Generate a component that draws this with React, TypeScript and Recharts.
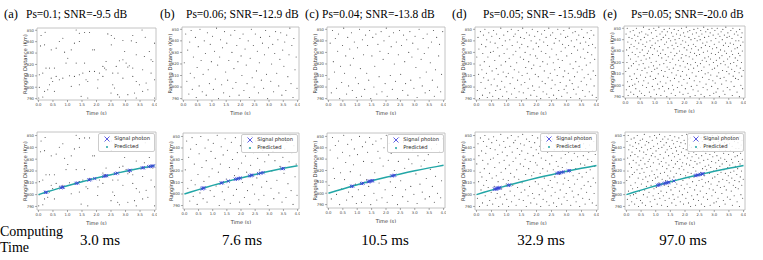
import { ComposedChart, Legend, ReferenceArea, Scatter, XAxis, YAxis } from 'recharts'

const timeTicks = [0, 0.5, 1, 1.5, 2, 2.5, 3, 3.5, 4]
const rangeTicks = [790, 800, 810, 820, 830, 840, 850]
const panelLetters = ['(a)', '(b)', '(c)', '(d)', '(e)']
const panelTitles = [
  'Ps=0.1; SNR=-9.5 dB',
  'Ps=0.06; SNR=-12.9 dB',
  'Ps=0.04; SNR=-13.8 dB',
  'Ps=0.05; SNR= -15.9dB',
  'Ps=0.05; SNR=-20.0 dB',
]
const computeTimes = ['3.0 ms', '7.6 ms', '10.5 ms', '32.9 ms', '97.0 ms']

// noise photons: [time (s), ranging distance (km)]
const noiseA = [
  [0.23, 848.3], [0.09, 845.4], [1.3, 850.3], [1.59, 848], [1.76, 848], [1.41, 847.4], [2.39, 846.8], [2.51, 845.4],
  [3.25, 845.4], [3.57, 850.3], [3.68, 843.9], [0.84, 843], [0.72, 840.1], [1.24, 838.7], [1.41, 840.1], [2.62, 843],
  [2.91, 841], [3.2, 840.7], [3.37, 839.3], [4.0, 838.7], [0.21, 837.2], [0.07, 836.3], [0.44, 832.8], [0.61, 834.3],
  [0.9, 830.8], [1.01, 825.5], [1.13, 832.8], [1.87, 832.8], [1.93, 832.8], [2.51, 837.2], [2.97, 831.4], [2.91, 824.1],
  [2.79, 823.2], [3.37, 828.5], [3.65, 827], [3.88, 824.1], [3.82, 831.4], [1.3, 821.2], [0.95, 821.2], [0.38, 816.8],
  [0.26, 816.8], [0.15, 812.4], [0.55, 816.8], [1.59, 821.2], [2.33, 822.6], [2.68, 818.3], [3.08, 817.7], [3.13, 818.8],
  [2.22, 818.3], [2.28, 816.8], [2.33, 815.3], [1.93, 813.9], [1.76, 813.9], [1.7, 805.1], [1.64, 806.6], [1.53, 812.4],
  [1.41, 811], [1.07, 810.1], [0.84, 808], [0.72, 806.6], [0.61, 809.5], [0.44, 808], [0.03, 811], [0.49, 805.1],
  [0.38, 802.2], [0.32, 797.8], [0.21, 796.4], [0.55, 796.4], [1.13, 800.8], [1.41, 802.2], [2.05, 806.6], [2.22, 809.5],
  [2.56, 812.4], [2.74, 812.4], [2.56, 802.2], [2.62, 799.3], [2.91, 808], [3.25, 809.5], [3.37, 805.1], [3.48, 802.2],
  [3.71, 803.7], [3.88, 812.4], [4.0, 806.6], [3.77, 797.8], [3.59, 796.4], [3.31, 794.9], [3.08, 793.5], [2.73, 793.5],
  [2.79, 791.4], [3.37, 790.5], [2.5, 794.9], [2.04, 799.3], [1.47, 792], [1.7, 790.5], [0.15, 791.4], [0.01, 790.5],
  [4.0, 790.5], [0.03, 799.9], [1.24, 809.5], [2.1, 812.4], [3.94, 822.6], [3.59, 815.3], [3.25, 816.8], [3.02, 821.2],
]
const noiseB = [
  [0.03, 821], [0.08, 846], [0.12, 805], [0.15, 832], [0.19, 794], [0.22, 839], [0.24, 812],
  [0.27, 849], [0.31, 798], [0.35, 826], [0.38, 808], [0.42, 843], [0.45, 791], [0.48, 817],
  [0.52, 835], [0.55, 801], [0.58, 850], [0.62, 823], [0.66, 796], [0.69, 811], [0.73, 840],
  [0.77, 829], [0.8, 793], [0.84, 847], [0.87, 815], [0.91, 803], [0.94, 837], [0.98, 822],
  [1.02, 844], [1.05, 798], [1.09, 831], [1.12, 807], [1.16, 851], [1.2, 819], [1.23, 790],
  [1.27, 826], [1.3, 841], [1.34, 802], [1.37, 834], [1.41, 795], [1.44, 848], [1.48, 813],
  [1.52, 838], [1.55, 806], [1.59, 823], [1.62, 792], [1.66, 845], [1.7, 830], [1.73, 799],
  [1.77, 816], [1.8, 849], [1.84, 804], [1.87, 836], [1.91, 822], [1.95, 793], [1.98, 842],
  [2.02, 827], [2.05, 810], [2.09, 846], [2.12, 797], [2.16, 833], [2.2, 819], [2.23, 803],
  [2.27, 840], [2.31, 791], [2.34, 825], [2.38, 850], [2.41, 808], [2.45, 836], [2.48, 800],
  [2.52, 846], [2.56, 814], [2.59, 831], [2.63, 795], [2.66, 821], [2.7, 843], [2.73, 806],
  [2.77, 838], [2.81, 799], [2.84, 828], [2.88, 849], [2.91, 811], [2.95, 790], [2.98, 834],
  [3.02, 844], [3.06, 805], [3.09, 820], [3.13, 837], [3.16, 796], [3.2, 829], [3.23, 848],
  [3.27, 812], [3.31, 841], [3.34, 801], [3.38, 824], [3.41, 847], [3.45, 793], [3.48, 832],
  [3.52, 818], [3.55, 839], [3.59, 797], [3.62, 845], [3.66, 809], [3.7, 828], [3.73, 851],
  [3.77, 803], [3.8, 836], [3.84, 791], [3.87, 842], [3.91, 815], [3.95, 826], [3.98, 799],
]
const noiseC = [
  [0.02, 807], [0.06, 838], [0.1, 795], [0.14, 849], [0.17, 822], [0.21, 813], [0.24, 842],
  [0.28, 799], [0.32, 831], [0.35, 846], [0.39, 790], [0.42, 818], [0.46, 804], [0.49, 836],
  [0.53, 851], [0.56, 812], [0.6, 827], [0.63, 794], [0.67, 843], [0.7, 801], [0.74, 833],
  [0.76, 819], [0.8, 847], [0.83, 797], [0.87, 825], [0.9, 839], [0.94, 808], [0.97, 791],
  [1.01, 834], [1.04, 803], [1.08, 850], [1.11, 816], [1.15, 792], [1.18, 841], [1.22, 828],
  [1.26, 798], [1.29, 845], [1.33, 812], [1.36, 836], [1.4, 806], [1.43, 849], [1.47, 790],
  [1.51, 827], [1.54, 843], [1.58, 800], [1.61, 818], [1.65, 846], [1.68, 794], [1.72, 837],
  [1.76, 809], [1.79, 831], [1.83, 848], [1.86, 796], [1.9, 824], [1.93, 840], [1.97, 803],
  [2.01, 851], [2.04, 792], [2.08, 829], [2.11, 844], [2.15, 810], [2.18, 835], [2.22, 798],
  [2.26, 847], [2.29, 820], [2.33, 805], [2.36, 839], [2.4, 790], [2.43, 828], [2.47, 849],
  [2.51, 811], [2.54, 836], [2.58, 797], [2.61, 845], [2.65, 822], [2.68, 803], [2.72, 841],
  [2.76, 793], [2.79, 830], [2.83, 848], [2.86, 806], [2.9, 826], [2.93, 838], [2.97, 799],
  [3.01, 844], [3.04, 817], [3.08, 791], [3.11, 833], [3.15, 850], [3.18, 808], [3.22, 824],
  [3.26, 801], [3.29, 842], [3.33, 829], [3.36, 795], [3.4, 813], [3.43, 846], [3.47, 834],
  [3.51, 797], [3.54, 821], [3.58, 839], [3.61, 806], [3.65, 849], [3.68, 792], [3.72, 815],
  [3.76, 843], [3.79, 800], [3.83, 827], [3.86, 837], [3.9, 796], [3.93, 811], [3.97, 848],
]
const noiseD = [
  [0.01, 826], [0.03, 797], [0.05, 843], [0.07, 811], [0.08, 833], [0.1, 790], [0.12, 819], [0.13, 848], [0.15, 804], [0.17, 837], [0.18, 815], [0.2, 793], [0.21, 829], [0.23, 845], [0.24, 808],
  [0.26, 822], [0.28, 850], [0.29, 799], [0.31, 835], [0.33, 812], [0.34, 841], [0.36, 791], [0.38, 826], [0.39, 806], [0.41, 847], [0.43, 818], [0.44, 795], [0.46, 839], [0.47, 830], [0.49, 802],
  [0.51, 844], [0.52, 814], [0.54, 792], [0.56, 831], [0.57, 849], [0.59, 807], [0.61, 823], [0.62, 838], [0.64, 797], [0.66, 816], [0.67, 846], [0.69, 801], [0.71, 834], [0.72, 811], [0.74, 790],
  [0.76, 827], [0.77, 842], [0.79, 798], [0.81, 851], [0.82, 819], [0.84, 805], [0.86, 836], [0.87, 792], [0.89, 813], [0.91, 845], [0.92, 829], [0.94, 800], [0.96, 840], [0.97, 822], [0.99, 809],
  [1.01, 796], [1.02, 833], [1.04, 848], [1.06, 812], [1.07, 790], [1.09, 825], [1.11, 841], [1.12, 803], [1.14, 818], [1.16, 850], [1.17, 794], [1.19, 836], [1.21, 808], [1.22, 828], [1.24, 844],
  [1.26, 815], [1.27, 799], [1.29, 846], [1.31, 831], [1.32, 791], [1.34, 821], [1.36, 839], [1.37, 806], [1.39, 849], [1.41, 813], [1.42, 796], [1.44, 834], [1.46, 826], [1.47, 843], [1.49, 802],
  [1.51, 837], [1.52, 810], [1.54, 851], [1.56, 795], [1.57, 824], [1.59, 842], [1.61, 804], [1.62, 830], [1.64, 817], [1.66, 790], [1.67, 847], [1.69, 812], [1.71, 835], [1.72, 799], [1.74, 822],
  [1.76, 845], [1.77, 807], [1.79, 828], [1.81, 793], [1.82, 840], [1.84, 816], [1.86, 850], [1.87, 801], [1.89, 833], [1.91, 819], [1.92, 797], [1.94, 844], [1.96, 811], [1.97, 827], [1.99, 838],
  [2.01, 792], [2.02, 825], [2.04, 848], [2.06, 809], [2.07, 835], [2.09, 800], [2.11, 841], [2.12, 818], [2.14, 790], [2.16, 831], [2.17, 846], [2.19, 805], [2.21, 822], [2.22, 796], [2.24, 839],
  [2.26, 814], [2.27, 849], [2.29, 803], [2.31, 829], [2.32, 843], [2.34, 794], [2.36, 820], [2.37, 836], [2.39, 808], [2.41, 851], [2.42, 791], [2.44, 826], [2.46, 812], [2.47, 845], [2.49, 799],
  [2.51, 833], [2.52, 806], [2.54, 847], [2.56, 821], [2.57, 793], [2.59, 838], [2.61, 815], [2.62, 802], [2.64, 842], [2.66, 828], [2.67, 790], [2.69, 810], [2.71, 850], [2.72, 824], [2.74, 797],
  [2.76, 840], [2.77, 817], [2.79, 804], [2.81, 846], [2.82, 831], [2.84, 792], [2.86, 823], [2.87, 837], [2.89, 809], [2.91, 849], [2.92, 798], [2.94, 814], [2.96, 834], [2.97, 843], [2.99, 801],
  [3.01, 827], [3.02, 795], [3.04, 844], [3.06, 812], [3.07, 836], [3.09, 851], [3.11, 806], [3.12, 820], [3.14, 791], [3.16, 840], [3.17, 829], [3.19, 803], [3.21, 847], [3.22, 816], [3.24, 798],
  [3.26, 835], [3.27, 809], [3.29, 848], [3.31, 822], [3.32, 794], [3.34, 841], [3.36, 813], [3.37, 832], [3.39, 800], [3.41, 845], [3.42, 818], [3.44, 790], [3.46, 838], [3.47, 826], [3.49, 805],
  [3.51, 850], [3.52, 815], [3.54, 797], [3.56, 833], [3.57, 843], [3.59, 808], [3.61, 825], [3.62, 792], [3.64, 839], [3.66, 819], [3.67, 802], [3.69, 847], [3.71, 830], [3.72, 811], [3.74, 836],
  [3.76, 796], [3.77, 842], [3.79, 821], [3.81, 807], [3.82, 849], [3.84, 828], [3.86, 793], [3.87, 837], [3.89, 814], [3.91, 845], [3.92, 801], [3.94, 824], [3.96, 834], [3.97, 810], [3.99, 791],
]
const noiseE = [
  [0.01, 812], [0.02, 845], [0.03, 796], [0.04, 831], [0.05, 820], [0.06, 850], [0.07, 803], [0.08, 838], [0.09, 791], [0.1, 826], [0.11, 815], [0.12, 842], [0.13, 799], [0.14, 833], [0.15, 808], [0.16, 847], [0.17, 823], [0.18, 794], [0.19, 836], [0.2, 817], [0.21, 805], [0.22, 841], [0.23, 829], [0.24, 800],
  [0.26, 848], [0.27, 819], [0.28, 792], [0.29, 834], [0.3, 810], [0.31, 844], [0.32, 801], [0.33, 827], [0.34, 839], [0.35, 797], [0.36, 821], [0.37, 850], [0.38, 806], [0.39, 832], [0.4, 814], [0.41, 790], [0.42, 843], [0.43, 825], [0.44, 803], [0.45, 837], [0.46, 818], [0.47, 846], [0.48, 795], [0.49, 829],
  [0.51, 809], [0.52, 840], [0.53, 822], [0.54, 793], [0.55, 847], [0.56, 813], [0.57, 831], [0.58, 800], [0.59, 836], [0.6, 819], [0.61, 851], [0.62, 804], [0.63, 826], [0.64, 842], [0.65, 791], [0.66, 815], [0.67, 834], [0.68, 807], [0.69, 845], [0.7, 823], [0.71, 798], [0.72, 838], [0.73, 811], [0.74, 828],
  [0.76, 844], [0.77, 802], [0.78, 830], [0.79, 816], [0.8, 849], [0.81, 794], [0.82, 824], [0.83, 839], [0.84, 808], [0.85, 833], [0.86, 790], [0.87, 820], [0.88, 846], [0.89, 812], [0.9, 835], [0.91, 799], [0.92, 827], [0.93, 841], [0.94, 805], [0.95, 817], [0.96, 850], [0.97, 796], [0.98, 832], [0.99, 814],
  [1.01, 837], [1.02, 806], [1.03, 848], [1.04, 821], [1.05, 792], [1.06, 843], [1.07, 815], [1.08, 830], [1.09, 801], [1.1, 839], [1.11, 810], [1.12, 826], [1.13, 851], [1.14, 797], [1.15, 834], [1.16, 818], [1.17, 845], [1.18, 803], [1.19, 828], [1.2, 791], [1.21, 840], [1.22, 813], [1.23, 824], [1.24, 847],
  [1.26, 799], [1.27, 831], [1.28, 842], [1.29, 808], [1.3, 819], [1.31, 849], [1.32, 795], [1.33, 836], [1.34, 812], [1.35, 827], [1.36, 844], [1.37, 802], [1.38, 822], [1.39, 838], [1.4, 790], [1.41, 816], [1.42, 847], [1.43, 807], [1.44, 833], [1.45, 825], [1.46, 797], [1.47, 841], [1.48, 814], [1.49, 850],
  [1.51, 820], [1.52, 804], [1.53, 839], [1.54, 829], [1.55, 793], [1.56, 846], [1.57, 811], [1.58, 835], [1.59, 800], [1.6, 823], [1.61, 843], [1.62, 815], [1.63, 796], [1.64, 832], [1.65, 849], [1.66, 806], [1.67, 826], [1.68, 840], [1.69, 791], [1.7, 818], [1.71, 837], [1.72, 809], [1.73, 845], [1.74, 828],
  [1.76, 798], [1.77, 834], [1.78, 813], [1.79, 848], [1.8, 822], [1.81, 803], [1.82, 841], [1.83, 830], [1.84, 794], [1.85, 817], [1.86, 844], [1.87, 808], [1.88, 836], [1.89, 824], [1.9, 850], [1.91, 800], [1.92, 827], [1.93, 812], [1.94, 839], [1.95, 792], [1.96, 821], [1.97, 846], [1.98, 805], [1.99, 833],
  [2.01, 843], [2.02, 816], [2.03, 797], [2.04, 838], [2.05, 826], [2.06, 851], [2.07, 809], [2.08, 831], [2.09, 802], [2.1, 819], [2.11, 847], [2.12, 793], [2.13, 835], [2.14, 814], [2.15, 842], [2.16, 825], [2.17, 806], [2.18, 848], [2.19, 790], [2.2, 829], [2.21, 818], [2.22, 840], [2.23, 799], [2.24, 832],
  [2.26, 811], [2.27, 845], [2.28, 823], [2.29, 796], [2.3, 836], [2.31, 815], [2.32, 849], [2.33, 804], [2.34, 828], [2.35, 841], [2.36, 791], [2.37, 820], [2.38, 834], [2.39, 808], [2.4, 846], [2.41, 826], [2.42, 800], [2.43, 839], [2.44, 817], [2.45, 850], [2.46, 795], [2.47, 831], [2.48, 812], [2.49, 843],
  [2.51, 827], [2.52, 803], [2.53, 840], [2.54, 819], [2.55, 848], [2.56, 792], [2.57, 833], [2.58, 813], [2.59, 845], [2.6, 822], [2.61, 807], [2.62, 837], [2.63, 798], [2.64, 829], [2.65, 851], [2.66, 816], [2.67, 790], [2.68, 842], [2.69, 824], [2.7, 810], [2.71, 835], [2.72, 847], [2.73, 801], [2.74, 821],
  [2.76, 838], [2.77, 796], [2.78, 830], [2.79, 849], [2.8, 811], [2.81, 825], [2.82, 843], [2.83, 805], [2.84, 818], [2.85, 834], [2.86, 791], [2.87, 846], [2.88, 823], [2.89, 809], [2.9, 839], [2.91, 828], [2.92, 799], [2.93, 850], [2.94, 814], [2.95, 832], [2.96, 804], [2.97, 844], [2.98, 820], [2.99, 793],
  [3.01, 836], [3.02, 815], [3.03, 848], [3.04, 802], [3.05, 827], [3.06, 841], [3.07, 794], [3.08, 822], [3.09, 833], [3.1, 808], [3.11, 850], [3.12, 817], [3.13, 797], [3.14, 845], [3.15, 829], [3.16, 811], [3.17, 838], [3.18, 790], [3.19, 824], [3.2, 843], [3.21, 806], [3.22, 831], [3.23, 819], [3.24, 847],
  [3.26, 801], [3.27, 826], [3.28, 840], [3.29, 813], [3.3, 849], [3.31, 795], [3.32, 835], [3.33, 821], [3.34, 807], [3.35, 844], [3.36, 830], [3.37, 792], [3.38, 818], [3.39, 837], [3.4, 851], [3.41, 804], [3.42, 828], [3.43, 812], [3.44, 842], [3.45, 798], [3.46, 823], [3.47, 846], [3.48, 816], [3.49, 834],
  [3.51, 810], [3.52, 843], [3.53, 825], [3.54, 796], [3.55, 837], [3.56, 819], [3.57, 848], [3.58, 803], [3.59, 830], [3.6, 814], [3.61, 841], [3.62, 791], [3.63, 827], [3.64, 850], [3.65, 808], [3.66, 836], [3.67, 820], [3.68, 799], [3.69, 845], [3.7, 812], [3.71, 832], [3.72, 824], [3.73, 806], [3.74, 839],
  [3.76, 847], [3.77, 817], [3.78, 794], [3.79, 833], [3.8, 822], [3.81, 844], [3.82, 805], [3.83, 828], [3.84, 839], [3.85, 811], [3.86, 790], [3.87, 849], [3.88, 826], [3.89, 815], [3.9, 835], [3.91, 800], [3.92, 842], [3.93, 820], [3.94, 808], [3.95, 846], [3.96, 830], [3.97, 797], [3.98, 838], [3.99, 813],
]

// detected signal photons
const signalA = [
  [0.24, 801.9], [0.28, 802.1], [0.78, 805.9], [0.82, 806.1], [0.85, 806.4], [1.3, 809.5], [1.35, 809.9], [1.74, 812.4],
  [1.78, 812.7], [1.94, 813.6], [2.25, 815.5], [2.3, 815.8], [2.35, 816.1], [2.65, 817.8], [2.72, 818.2], [3.12, 820.4],
  [3.16, 820.6], [3.58, 822.6], [3.62, 822.8], [3.8, 823.7], [3.86, 823.9], [3.92, 824.2], [3.96, 824.3],
]
const signalB = [
  [0.62, 804.7], [0.66, 805], [0.7, 805.3], [1.3, 809.5], [1.34, 809.8], [1.55, 811.2], [1.8, 812.8], [1.86, 813.2],
  [1.92, 813.5], [1.98, 813.9], [2.3, 815.8], [2.36, 816.1], [2.4, 816.4], [2.62, 817.7], [2.7, 818.1], [2.78, 818.6],
  [3.45, 822], [3.5, 822.2],
]
const signalC = [
  [0.8, 806], [0.84, 806.3], [1.15, 808.5], [1.2, 808.8], [1.38, 810.1], [1.42, 810.3], [1.46, 810.6], [1.5, 810.9],
  [1.54, 811.1], [2.2, 815.2], [2.25, 815.5], [2.3, 815.8],
]
const signalD = [
  [0.6, 804.6], [0.63, 804.8], [0.66, 805], [0.69, 805.2], [0.72, 805.5], [0.75, 805.7], [0.78, 805.9], [1.06, 807.9],
  [1.1, 808.2], [2.68, 818], [2.74, 818.4], [2.78, 818.6], [2.84, 818.9], [2.9, 819.2], [3.06, 820.1], [3.1, 820.3],
]
const signalE = [
  [1.06, 807.9], [1.1, 808.2], [1.15, 808.5], [1.28, 809.4], [1.33, 809.7], [1.38, 810.1], [1.42, 810.3], [1.45, 810.5],
  [1.62, 811.6], [2.35, 816.1], [2.4, 816.4], [2.45, 816.7], [2.52, 817.1], [2.58, 817.5], [2.62, 817.7],
]

// predicted track
const predicted = [
  [0, 800], [0.25, 802], [0.5, 803.8], [0.75, 805.7], [1, 807.5], [1.25, 809.2], [1.5, 810.9], [1.75, 812.5], [2, 814],
  [2.25, 815.5], [2.5, 816.9], [2.75, 818.4], [3, 819.7], [3.25, 821], [3.5, 822.3], [3.75, 823.4], [4, 824.6],
]

const toPts = (arr: number[][]) => arr.map(([t, r]) => ({ t, r }))

const Y_W = 22
const X_H = 15
const SANS = 'DejaVu Sans'
const SERIF = 'Liberation Serif'
const tickStyle = { fontSize: 3.8, fill: '#444', fontFamily: SANS }

const NoiseDot = (props: any) => {
  const { cx, cy } = props
  if (cx == null || cy == null) return <g />
  return <circle cx={cx} cy={cy} r={0.55} fill="#4a4a4a" />
}

const SignalCross = (props: any) => {
  const { cx, cy } = props
  if (cx == null || cy == null) return <g />
  const s = 1.6
  return (
    <path
      d={`M${cx - s},${cy - s}L${cx + s},${cy + s}M${cx - s},${cy + s}L${cx + s},${cy - s}`}
      stroke="#3a45d6"
      strokeWidth={0.9}
    />
  )
}

const LegendBox = () => (
  <div
    style={{
      border: '0.8px solid #ccc',
      borderRadius: 2,
      background: 'rgba(255,255,255,0.85)',
      padding: '1px 4px 1px 3px',
      fontFamily: SANS,
      fontSize: 5.2,
      lineHeight: '7.5px',
      color: '#222',
      whiteSpace: 'nowrap',
    }}
  >
    <div style={{ display: 'flex', alignItems: 'center' }}>
      <svg width={10} height={7}>
        <path d="M2.5,1.5L7.5,6.5M2.5,6.5L7.5,1.5" stroke="#4b4be0" strokeWidth={0.9} />
      </svg>
      <span style={{ marginLeft: 2 }}>Signal photon</span>
    </div>
    <div style={{ display: 'flex', alignItems: 'center' }}>
      <svg width={10} height={7}>
        <circle cx={5} cy={4} r={1} fill="#22a6a6" />
      </svg>
      <span style={{ marginLeft: 2 }}>Predicted</span>
    </div>
  </div>
)

interface PanelProps {
  frame: number[]
  noise: number[][]
  signal: number[][]
  fit?: boolean
}

function Panel({ frame, noise, signal, fit = false }: PanelProps) {
  const [l, r, t, b] = frame
  const width = r - l + Y_W + 1
  const height = b - t + X_H + 1
  const yDomain = fit ? [787, 853] : [788.8, 852]
  return (
    <div style={{ position: 'absolute', left: l - Y_W, top: t - 1 }}>
      <ComposedChart width={width} height={height} margin={{ top: 1, right: 1, bottom: 0, left: 0 }}>
        <XAxis
          type="number"
          dataKey="t"
          domain={[-0.05, 4.05]}
          allowDataOverflow
          ticks={timeTicks}
          interval={0}
          tickFormatter={(v) => Number(v).toFixed(1)}
          tick={tickStyle}
          tickSize={2}
          tickMargin={1.5}
          axisLine={false}
          tickLine={{ stroke: '#555', strokeWidth: 0.5 }}
          height={X_H}
          label={{ value: 'Time (s)', position: 'insideBottom', offset: 0.5, style: { fontSize: 5, fill: '#333', fontFamily: SANS } }}
        />
        <YAxis
          type="number"
          dataKey="r"
          domain={yDomain}
          allowDataOverflow
          ticks={rangeTicks}
          interval={0}
          tick={tickStyle}
          tickSize={2}
          tickMargin={1}
          axisLine={false}
          tickLine={{ stroke: '#555', strokeWidth: 0.5 }}
          width={Y_W}
          label={{
            value: 'Ranging Distance (Km)',
            angle: -90,
            position: 'insideLeft',
            offset: 10,
            style: { textAnchor: 'middle', fontSize: 5.2, fill: '#333', fontFamily: SANS },
          }}
        />
        <ReferenceArea x1={-0.05} x2={4.05} y1={yDomain[0]} y2={yDomain[1]} fill="none" stroke="#b5b5b5" strokeWidth={0.8} />
        <Scatter data={toPts(noise)} shape={NoiseDot} isAnimationActive={false} />
        {fit && (
          <Scatter
            data={toPts(predicted)}
            line={{ stroke: '#22a6a6', strokeWidth: 1.5 }}
            shape={() => <g />}
            isAnimationActive={false}
          />
        )}
        {fit && <Scatter data={toPts(signal)} shape={SignalCross} isAnimationActive={false} />}
        {fit && (
          <Legend
            layout="vertical"
            align="center"
            verticalAlign="middle"
            content={LegendBox}
            wrapperStyle={{ top: 2, right: 2, left: 'auto', width: 'auto', height: 'auto' }}
          />
        )}
      </ComposedChart>
    </div>
  )
}

const topFrames = [
  [37, 156, 28, 100],
  [182, 299, 27, 100],
  [327, 445, 27, 100],
  [475, 598, 27, 100],
  [624, 745, 26, 98],
]
const bottomFrames = [
  [37, 156, 132, 210],
  [183, 299, 133, 209],
  [327, 445, 133, 208],
  [475, 598, 132, 210],
  [625, 745, 132, 210],
]
const noiseSets = [noiseA, noiseB, noiseC, noiseD, noiseE]
const signalSets = [signalA, signalB, signalC, signalD, signalE]
const letterX = [4, 160, 305, 452, 603]
const titleX = [26, 186, 322, 483, 631]
const timeX = [100, 242, 385, 541, 683]

export default function App() {
  return (
    <div style={{ position: 'absolute', left: 0, top: 0, width: 763, height: 260, background: '#fff', overflow: 'hidden' }}>
      {noiseSets.map((noise, i) => (
        <div key={`p${i}`}>
          <Panel frame={topFrames[i]} noise={noise} signal={signalSets[i]} />
          <Panel frame={bottomFrames[i]} noise={noise} signal={signalSets[i]} fit />
        </div>
      ))}
      <svg width={763} height={260} style={{ position: 'absolute', left: 0, top: 0, pointerEvents: 'none' }}>
        {panelTitles.map((title, i) => (
          <g key={title}>
            <text x={letterX[i]} y={18} fontFamily={SERIF} fontSize={12.5} fill="#000">
              {panelLetters[i]}
            </text>
            <text x={titleX[i]} y={18} fontFamily={SERIF} fontSize={11.5} fill="#000">
              {title}
            </text>
          </g>
        ))}
        <text x={0} y={236} fontFamily={SERIF} fontSize={14} fill="#000">Computing</text>
        <text x={0} y={252} fontFamily={SERIF} fontSize={14} fill="#000">Time</text>
        {computeTimes.map((v, i) => (
          <text key={v} x={timeX[i]} y={245} textAnchor="middle" fontFamily={SERIF} fontSize={15} fill="#000">
            {v}
          </text>
        ))}
      </svg>
    </div>
  )
}
